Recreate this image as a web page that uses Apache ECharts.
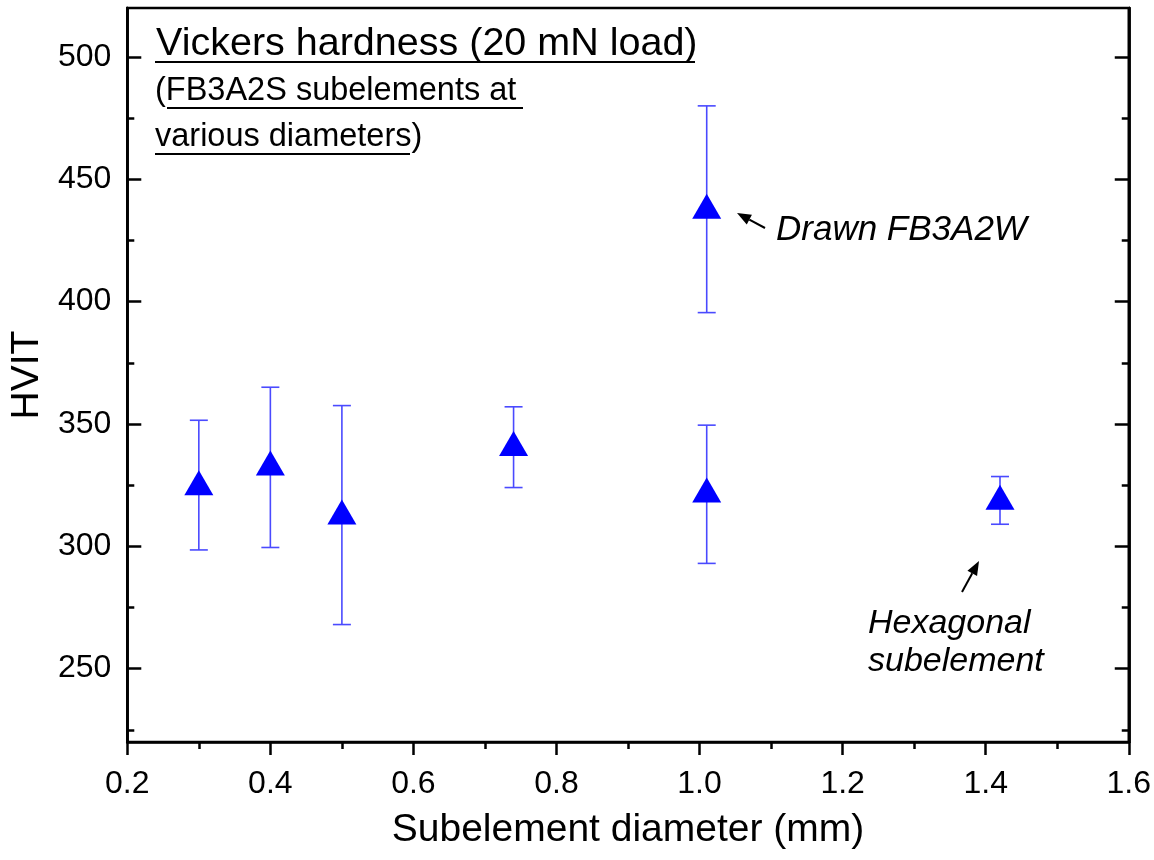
<!DOCTYPE html>
<html>
<head>
<meta charset="utf-8">
<script src="https://cdn.jsdelivr.net/npm/echarts@6/dist/echarts.min.js"></script>
<style>html,body{margin:0;padding:0;background:#fff}#c{width:1154px;height:860px}</style>
</head>
<body>
<div id="c"></div>
<script>
// ---- data ----
const diameters = [0.30, 0.40, 0.50, 0.74, 1.01, 1.42, 1.01];
const hardness  = [326,  334,  314,  342,  323,  320,  439];
const errLow    = [298.5, 299.5, 268, 324, 293, 309, 395.5];
const errHigh   = [351.5, 365, 357.5, 357, 349.5, 328.5, 480];
const xTicks = [0.2, 0.4, 0.6, 0.8, 1.0, 1.2, 1.4, 1.6];
const yMajorTicks = [250, 300, 350, 400, 450, 500];
const yMinorTicks = [225, 275, 325, 375, 425, 475];

const FONT = '"Liberation Sans", Arial, sans-serif';
const chart = echarts.init(document.getElementById('c'));

const points = diameters.map((d, i) => [d, hardness[i]]);
const bars = diameters.map((d, i) => [d, errLow[i], errHigh[i]]);

function yAxisDef(pos, values, len, showLabel) {
  return {
    type: 'value', position: pos, min: 220, max: 520,
    axisLine: { show: true, onZero: false, lineStyle: { color: '#000', width: 2.5 } },
    axisTick: { show: true, inside: true, length: len, lineStyle: { color: '#000', width: 2.5 }, customValues: values },
    axisLabel: { show: showLabel, customValues: values, margin: 16, color: '#000', fontSize: 32, fontFamily: FONT },
    splitLine: { show: false },
    name: showLabel ? 'HVIT' : '',
    nameLocation: 'middle', nameGap: 80,
    nameTextStyle: { fontSize: 39, fontFamily: FONT, color: '#000' }
  };
}

const option = {
  animation: false,
  backgroundColor: '#fff',
  grid: { left: 127, right: 23, top: 8, bottom: 118, show: true, borderColor: '#000', borderWidth: 2.5, backgroundColor: 'transparent' },
  xAxis: {
    type: 'value', min: 0.2, max: 1.6, interval: 0.2,
    axisLine: { show: true, onZero: false, lineStyle: { color: '#000', width: 2.5 } },
    axisTick: { show: true, inside: false, length: 13, lineStyle: { color: '#000', width: 2.5 } },
    minorTick: { show: true, splitNumber: 2, length: 7, lineStyle: { color: '#000', width: 2.5 } },
    axisLabel: { margin: 26, color: '#000', fontSize: 32, fontFamily: FONT,
      formatter: v => { const t = xTicks.find(x => Math.abs(x - v) < 1e-6); return t === undefined ? '' : t.toFixed(1); } },
    splitLine: { show: false },
    name: 'Subelement diameter (mm)', nameLocation: 'middle', nameGap: 69,
    nameTextStyle: { fontSize: 39, fontFamily: FONT, color: '#000' }
  },
  yAxis: [
    yAxisDef('left', yMajorTicks, 14, true),
    yAxisDef('left', yMinorTicks, 7, false),
    yAxisDef('right', yMajorTicks, 14, false),
    yAxisDef('right', yMinorTicks, 7, false)
  ],
  series: [
    {
      type: 'custom', xAxisIndex: 0, yAxisIndex: 0, data: bars, z: 2,
      renderItem: function (params, api) {
        const x = api.value(0);
        const lo = api.coord([x, api.value(1)]);
        const hi = api.coord([x, api.value(2)]);
        const cap = 9;
        const st = { stroke: '#4a4aff', lineWidth: 1.6 };
        return { type: 'group', children: [
          { type: 'line', shape: { x1: lo[0], y1: lo[1], x2: hi[0], y2: hi[1] }, style: st },
          { type: 'line', shape: { x1: lo[0] - cap, y1: lo[1], x2: lo[0] + cap, y2: lo[1] }, style: st },
          { type: 'line', shape: { x1: hi[0] - cap, y1: hi[1], x2: hi[0] + cap, y2: hi[1] }, style: st }
        ]};
      }
    },
    {
      type: 'scatter', xAxisIndex: 0, yAxisIndex: 0, data: points, z: 3,
      symbol: 'triangle', symbolSize: [29, 25],
      itemStyle: { color: '#0000ff', opacity: 1 }
    }
  ]
};
chart.setOption(option);

function arrow(x1, y1, x2, y2) {
  const dx = x2 - x1, dy = y2 - y1, L = Math.hypot(dx, dy);
  const ux = dx / L, uy = dy / L, hl = 14, hw = 5.5;
  const bx = x2 - ux * hl, by = y2 - uy * hl;
  return [
    { type: 'line', shape: { x1: x1, y1: y1, x2: bx, y2: by }, style: { stroke: '#000', lineWidth: 2 } },
    { type: 'polygon', shape: { points: [[x2, y2], [bx - uy * hw, by + ux * hw], [bx + uy * hw, by - ux * hw]] }, style: { fill: '#000' } }
  ];
}
function txt(t, x, y, size, italic) {
  return { type: 'text', style: { text: t, x: x, y: y, fill: '#000', font: (italic ? 'italic ' : '') + size + 'px ' + FONT, textVerticalAlign: 'middle', verticalAlign: 'middle' } };
}
function uline(x1, x2, y) {
  return { type: 'line', shape: { x1: x1, y1: y, x2: x2, y2: y }, style: { stroke: '#000', lineWidth: 2 } };
}

chart.setOption({ graphic: [
  txt('Vickers hardness (20 mN load)', 156, 44, 39.5, false),
  uline(155, 695, 62),
  txt('(FB3A2S subelements at', 155, 91, 32.5, false),
  uline(167, 523, 108),
  txt('various diameters)', 155, 137, 32.5, false),
  uline(155, 410, 154),
  txt('Drawn FB3A2W', 776, 230, 35, true),
  txt('Hexagonal', 868, 624, 34, true),
  txt('subelement', 868, 662, 34, true)
].concat(arrow(765, 228, 737, 213), arrow(962, 592, 979, 561)) });
</script>
</body>
</html>
